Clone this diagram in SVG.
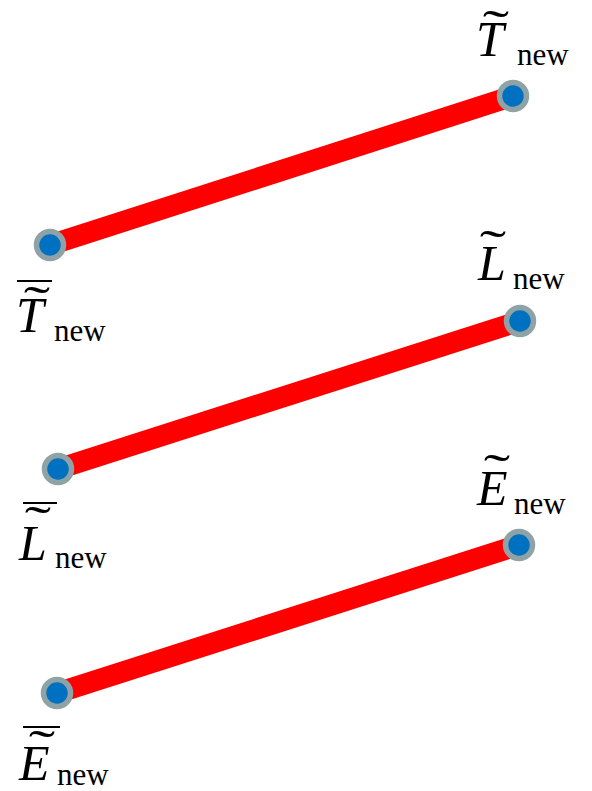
<svg xmlns="http://www.w3.org/2000/svg" width="592" height="791" viewBox="0 0 592 791">
<style>
.edge{stroke:#FF0000;stroke-width:21;stroke-linecap:butt}
.node{fill:#0070C0;stroke:#8FA3A6;stroke-width:5.5}
.m{font-family:"Liberation Serif",serif;font-style:italic;font-size:50px;fill:#000}
.s{font-family:"Liberation Serif",serif;font-size:31px;fill:#000}
.t{font-family:"Liberation Serif",serif;font-size:44px;fill:#000;text-anchor:middle}
.bar{stroke:#000;stroke-width:2}
</style>
<rect width="592" height="791" fill="#fff"/>
<g id="connectors">
<line class="edge" x1="50" y1="245" x2="513" y2="96"/>
<line class="edge" x1="58" y1="469" x2="520" y2="321"/>
<line class="edge" x1="57" y1="693" x2="519" y2="545"/>
</g>
<g id="T_right">
<circle class="node" cx="513" cy="96" r="13.5"/>
<text class="t" transform="translate(496,43.5) scale(1.8,1.1)">˜</text>
<text class="m" x="476" y="56">T</text>
<text class="s" x="517" y="65">new</text>
</g>
<g id="T_left">
<circle class="node" cx="50" cy="245" r="13.5"/>
<line class="bar" x1="17" y1="281" x2="52" y2="281"/>
<text class="t" transform="translate(37,320) scale(1.8,1.1)">˜</text>
<text class="m" x="16" y="332">T</text>
<text class="s" x="54" y="341">new</text>
</g>
<g id="L_right">
<circle class="node" cx="520" cy="321" r="13.5"/>
<text class="t" transform="translate(493,264) scale(1.8,1.1)">˜</text>
<text class="m" x="478" y="280">L</text>
<text class="s" x="513" y="289">new</text>
</g>
<g id="L_left">
<circle class="node" cx="58" cy="469" r="13.5"/>
<line class="bar" x1="23" y1="503" x2="57" y2="503"/>
<text class="t" transform="translate(38,540) scale(1.8,1.1)">˜</text>
<text class="m" x="19" y="560">L</text>
<text class="s" x="55" y="568">new</text>
</g>
<g id="E_right">
<circle class="node" cx="519" cy="545" r="13.5"/>
<text class="t" transform="translate(497,488) scale(1.8,1.1)">˜</text>
<text class="m" x="477" y="505">E</text>
<text class="s" x="514" y="514">new</text>
</g>
<g id="E_left">
<circle class="node" cx="57" cy="693" r="13.5"/>
<line class="bar" x1="23" y1="727" x2="60" y2="727"/>
<text class="t" transform="translate(42,764) scale(1.8,1.1)">˜</text>
<text class="m" x="19" y="780">E</text>
<text class="s" x="57" y="785">new</text>
</g>
</svg>
